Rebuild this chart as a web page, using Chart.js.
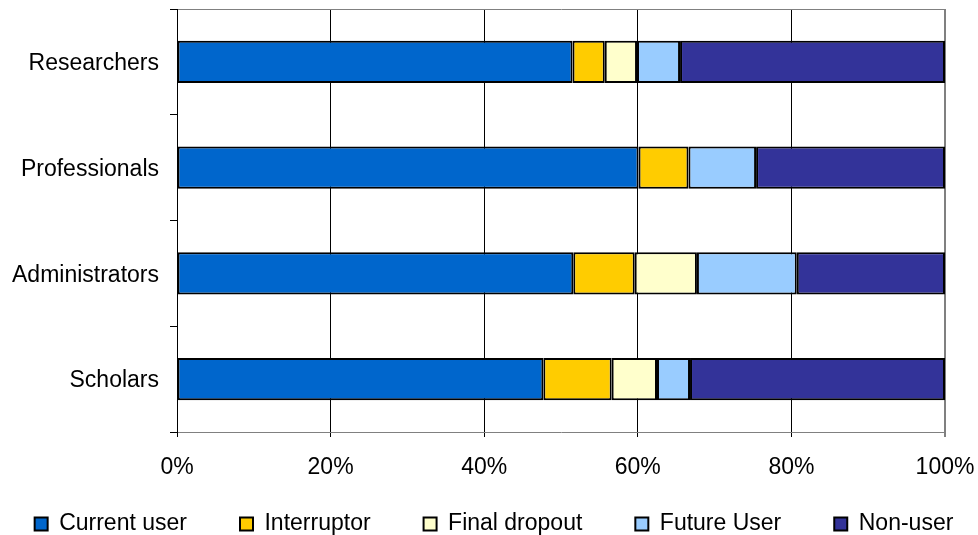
<!DOCTYPE html>
<html>
<head>
<meta charset="utf-8">
<script src="https://cdn.jsdelivr.net/npm/chart.js@4/dist/chart.umd.min.js"></script>
<style>
html,body{margin:0;padding:0;background:#fff;}
#wrap{width:978px;height:535px;position:relative;}
</style>
</head>
<body>
<div id="wrap"><canvas id="c"></canvas></div>
<script>
const categories = ['Researchers', 'Professionals', 'Administrators', 'Scholars'];
const seriesNames = ['Current user', 'Interruptor', 'Final dropout', 'Future User', 'Non-user'];
const currentUser = [51.5, 60.1, 51.6, 47.7];
const interruptor = [4.2, 6.5, 8.0, 8.9];
const finalDropout = [4.2, 0, 8.1, 5.9];
const futureUser = [5.6, 8.8, 13.0, 4.3];
const nonUser = [34.5, 24.6, 19.3, 33.2];
const xTickLabels = ['0%', '20%', '40%', '60%', '80%', '100%'];
const colors = ['#0066CC', '#FFCC00', '#FFFFCC', '#99CCFF', '#333399'];

const FONT = 'Liberation Sans, Arial, sans-serif';
const FS = 23;
const seriesData = [currentUser, interruptor, finalDropout, futureUser, nonUser];

const datasets = seriesNames.map((name, i) => ({
  label: name,
  data: seriesData[i],
  backgroundColor: colors[i],
  borderColor: '#000',
  borderWidth: 2,
  borderSkipped: false,
  barPercentage: 0.4,
  categoryPercentage: 1.0,
  xAxisID: 'x',
  yAxisID: 'y'
}));

new Chart(document.getElementById('c'), {
  type: 'bar',
  data: { labels: categories, datasets },
  options: {
    indexAxis: 'y',
    responsive: true,
    maintainAspectRatio: false,
    animation: false,
    devicePixelRatio: 1,
    layout: { padding: { left: -30, right: -40, top: 9, bottom: -10.5 } },
    plugins: {
      tooltip: { enabled: false },
      legend: {
        position: 'bottom',
        labels: {
          font: { family: FONT, size: FS },
          color: '#000',
          boxWidth: 13,
          boxHeight: 13,
          padding: 53
        }
      }
    },
    scales: {
      x: {
        stacked: true,
        min: 0, max: 100,
        position: 'bottom',
        afterFit: s => { s.height = 27.5; s.paddingLeft = 0; s.paddingRight = 33; },
        ticks: {
          stepSize: 20,
          mirror: true,
          padding: -49.8,
          color: '#000',
          font: { family: FONT, size: FS },
          callback: (v) => xTickLabels[Math.round(v / 20)]
        },
        grid: {
          color: ctx => (ctx.tick && ctx.tick.value === 100) ? '#808080' : '#000',
          lineWidth: ctx => (ctx.tick && ctx.tick.value === 100) ? 2 : 1,
          tickLength: 5,
          drawTicks: true
        },
        border: { color: '#808080', width: 1 }
      },
      x2: {
        position: 'top',
        min: 0, max: 100,
        afterFit: s => { s.height = 0; s.paddingLeft = 0; s.paddingRight = 0; },
        ticks: { display: false },
        grid: { display: false, drawTicks: false },
        border: { color: '#808080', width: 1 }
      },
      y: {
        stacked: true,
        afterFit: s => { s.width = 207; s.paddingTop = 0; s.paddingBottom = 0; },
        ticks: {
          padding: 11,
          labelOffset: 2,
          color: '#000',
          font: { family: FONT, size: FS }
        },
        grid: {
          offset: true,
          drawOnChartArea: false,
          drawTicks: true,
          tickLength: 7,
          color: '#000'
        },
        border: { color: '#000', width: 1 }
      }
    }
  }
});
</script>
</body>
</html>
